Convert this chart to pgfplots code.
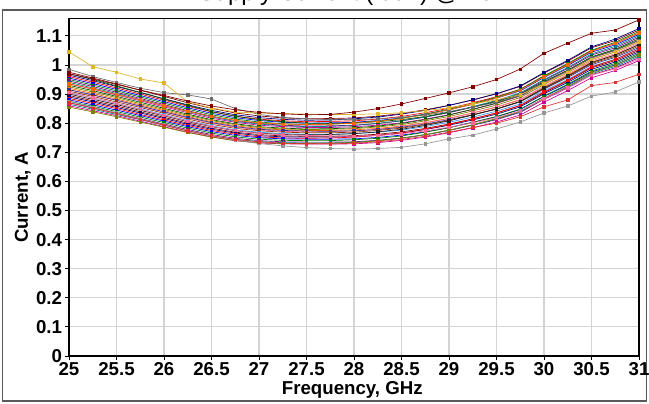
\documentclass[border=0pt]{standalone}
\usepackage{pgfplots}
\pgfplotsset{compat=1.18}
\usepackage{pgfplotstable}
\usepackage{fontspec}
\setmainfont{Liberation Sans}

\definecolor{c1}{RGB}{128,0,0}
\definecolor{c2}{RGB}{0,0,128}
\definecolor{c3}{RGB}{255,0,0}
\definecolor{c4}{RGB}{0,0,255}
\definecolor{c5}{RGB}{0,128,0}
\definecolor{c6}{RGB}{128,0,128}
\definecolor{c7}{RGB}{0,128,128}
\definecolor{c8}{RGB}{204,0,153}
\definecolor{c9}{RGB}{0,85,0}
\definecolor{c10}{RGB}{128,128,0}
\definecolor{c11}{RGB}{255,102,0}
\definecolor{c12}{RGB}{255,102,153}
\definecolor{c13}{RGB}{51,51,153}
\definecolor{c14}{RGB}{153,51,0}
\definecolor{c15}{RGB}{51,153,255}
\definecolor{c16}{RGB}{30,30,30}
\definecolor{gold}{RGB}{222,180,40}
\definecolor{gryA}{RGB}{110,110,110}
\definecolor{gryB}{RGB}{150,150,150}
\definecolor{redlo}{RGB}{225,50,50}
\definecolor{gridc}{RGB}{212,212,212}

\pgfplotscreateplotcyclelist{xl}{{c1},{c2},{c3},{c4},{c5},{c6},{c7},{c8},{c9},{c10},{c11},{c12},{c13},{c14},{c15},{c16}}

% one row per curve, transposed below
\pgfplotstableread{
name c0 c1 c2 c3 c4 c5 c6 c7 c8 c9 c10 c11 c12 c13 c14 c15 c16 c17 c18 c19 c20 c21 c22 c23 c24
x 25 25.25 25.5 25.75 26 26.25 26.5 26.75 27 27.25 27.5 27.75 28 28.25 28.5 28.75 29 29.25 29.5 29.75 30 30.25 30.5 30.75 31
s1 0.975 0.955 0.935 0.913 0.892 0.870 0.851 0.835 0.825 0.818 0.815 0.816 0.818 0.824 0.833 0.846 0.861 0.880 0.901 0.926 0.972 1.013 1.059 1.084 1.120
s2 0.965 0.946 0.926 0.905 0.884 0.863 0.844 0.829 0.819 0.813 0.810 0.811 0.815 0.821 0.831 0.844 0.861 0.880 0.901 0.928 0.974 1.016 1.062 1.089 1.125
s3 0.960 0.941 0.921 0.900 0.879 0.858 0.839 0.824 0.814 0.808 0.805 0.806 0.808 0.814 0.823 0.836 0.851 0.870 0.891 0.916 0.962 1.003 1.049 1.074 1.110
s4 0.955 0.936 0.916 0.895 0.874 0.853 0.834 0.819 0.809 0.803 0.800 0.801 0.803 0.809 0.818 0.831 0.846 0.865 0.886 0.911 0.957 0.998 1.044 1.069 1.105
s5 0.950 0.931 0.911 0.890 0.869 0.848 0.829 0.814 0.804 0.798 0.795 0.797 0.801 0.807 0.817 0.831 0.848 0.867 0.889 0.916 0.963 1.005 1.051 1.078 1.115
s6 0.945 0.926 0.906 0.885 0.864 0.843 0.824 0.809 0.799 0.793 0.790 0.791 0.793 0.799 0.808 0.821 0.836 0.855 0.876 0.901 0.947 0.988 1.034 1.059 1.095
s7 0.940 0.921 0.902 0.881 0.860 0.840 0.821 0.806 0.797 0.791 0.788 0.789 0.792 0.799 0.808 0.821 0.837 0.857 0.878 0.904 0.950 0.991 1.038 1.064 1.100
s8 0.935 0.917 0.897 0.877 0.856 0.836 0.817 0.803 0.793 0.788 0.785 0.785 0.788 0.793 0.801 0.814 0.829 0.847 0.868 0.893 0.938 0.979 1.024 1.050 1.085
s9 0.930 0.912 0.892 0.872 0.851 0.831 0.812 0.798 0.788 0.783 0.780 0.781 0.784 0.790 0.799 0.812 0.828 0.848 0.869 0.895 0.941 0.982 1.028 1.054 1.090
s10 0.925 0.907 0.888 0.867 0.847 0.827 0.809 0.795 0.785 0.780 0.778 0.779 0.781 0.787 0.795 0.808 0.823 0.842 0.862 0.888 0.933 0.974 1.019 1.045 1.080
s11 0.920 0.902 0.883 0.863 0.843 0.823 0.805 0.791 0.782 0.777 0.775 0.775 0.777 0.782 0.790 0.802 0.817 0.835 0.855 0.880 0.925 0.965 1.010 1.035 1.070
s12 0.915 0.897 0.878 0.858 0.838 0.818 0.800 0.786 0.777 0.772 0.770 0.771 0.773 0.779 0.788 0.801 0.816 0.835 0.856 0.881 0.927 0.968 1.014 1.039 1.075
s13 0.915 0.897 0.879 0.859 0.839 0.820 0.802 0.788 0.779 0.775 0.773 0.772 0.774 0.778 0.786 0.797 0.812 0.829 0.848 0.873 0.917 0.957 1.001 1.026 1.060
s14 0.910 0.892 0.873 0.854 0.834 0.814 0.796 0.782 0.774 0.769 0.767 0.767 0.769 0.775 0.783 0.795 0.810 0.829 0.849 0.874 0.919 0.960 1.005 1.030 1.065
s15 0.905 0.887 0.868 0.849 0.829 0.809 0.791 0.777 0.769 0.764 0.762 0.762 0.764 0.769 0.776 0.788 0.803 0.821 0.841 0.866 0.911 0.950 0.995 1.020 1.055
s16 0.900 0.882 0.864 0.844 0.825 0.805 0.788 0.774 0.766 0.761 0.760 0.761 0.764 0.770 0.779 0.792 0.808 0.828 0.849 0.875 0.921 0.962 1.008 1.034 1.070
s17 0.895 0.877 0.859 0.839 0.820 0.800 0.783 0.769 0.761 0.756 0.755 0.755 0.757 0.762 0.770 0.782 0.797 0.815 0.835 0.860 0.905 0.945 0.990 1.015 1.050
s18 0.890 0.873 0.854 0.835 0.816 0.796 0.779 0.766 0.757 0.753 0.752 0.752 0.754 0.758 0.766 0.778 0.793 0.811 0.831 0.856 0.901 0.940 0.985 1.010 1.045
s19 0.885 0.868 0.850 0.830 0.811 0.792 0.775 0.762 0.753 0.749 0.748 0.749 0.752 0.758 0.766 0.779 0.795 0.814 0.835 0.861 0.907 0.947 0.993 1.019 1.055
s20 0.880 0.863 0.845 0.826 0.807 0.788 0.771 0.758 0.750 0.746 0.745 0.745 0.746 0.751 0.759 0.770 0.785 0.803 0.822 0.847 0.892 0.931 0.976 1.000 1.035
s21 0.875 0.858 0.840 0.821 0.802 0.783 0.766 0.753 0.745 0.741 0.740 0.740 0.743 0.748 0.756 0.769 0.784 0.803 0.823 0.848 0.893 0.934 0.979 1.005 1.040
s22 0.870 0.853 0.835 0.816 0.797 0.778 0.761 0.748 0.740 0.736 0.735 0.735 0.736 0.741 0.749 0.760 0.775 0.793 0.812 0.837 0.882 0.921 0.966 0.990 1.025
s23 0.865 0.848 0.830 0.812 0.793 0.774 0.757 0.744 0.737 0.733 0.732 0.732 0.734 0.740 0.748 0.760 0.775 0.794 0.814 0.839 0.884 0.924 0.970 0.995 1.030
s24 0.860 0.843 0.826 0.807 0.788 0.769 0.753 0.740 0.732 0.729 0.728 0.728 0.729 0.733 0.741 0.752 0.767 0.784 0.804 0.828 0.872 0.912 0.956 0.981 1.015
s25 0.970 0.950 0.928 0.906 0.883 0.861 0.840 0.824 0.812 0.805 0.800 0.799 0.801 0.805 0.812 0.823 0.838 0.855 0.874 0.899 0.943 0.982 1.026 1.051 1.085
s26 0.855 0.839 0.822 0.804 0.786 0.768 0.752 0.740 0.733 0.730 0.730 0.731 0.733 0.739 0.748 0.761 0.776 0.795 0.816 0.841 0.886 0.927 0.973 0.999 1.035
s27 0.935 0.918 0.899 0.880 0.860 0.841 0.823 0.810 0.801 0.797 0.795 0.796 0.800 0.806 0.816 0.829 0.846 0.865 0.886 0.913 0.959 1.001 1.047 1.074 1.110
s28 0.905 0.887 0.868 0.847 0.827 0.807 0.789 0.775 0.765 0.760 0.758 0.756 0.755 0.758 0.764 0.773 0.786 0.801 0.819 0.842 0.884 0.922 0.965 0.987 1.020
yel 1.045 0.994 0.975 0.952 0.938 0.873 0.852 0.838 0.835 0.833 0.831 0.830 0.830 0.832 0.836 0.843 0.853 0.866 0.880 0.898 0.935 0.975 1.020 1.045 1.080
grA 0.985 0.960 0.940 0.920 0.905 0.897 0.883 0.850 0.830 0.820 0.815 0.812 0.812 0.815 0.820 0.828 0.840 0.855 0.872 0.895 0.940 0.980 1.025 1.050 1.085
grB 0.875 0.855 0.835 0.815 0.795 0.775 0.757 0.742 0.730 0.722 0.716 0.713 0.711 0.713 0.717 0.729 0.746 0.759 0.780 0.804 0.835 0.859 0.893 0.907 0.942
rlo 0.870 0.852 0.833 0.813 0.793 0.773 0.757 0.744 0.736 0.731 0.729 0.729 0.731 0.736 0.744 0.755 0.769 0.785 0.800 0.822 0.856 0.880 0.929 0.940 0.968
brn 0.970 0.952 0.933 0.914 0.895 0.876 0.859 0.846 0.837 0.832 0.829 0.830 0.838 0.850 0.866 0.885 0.904 0.925 0.950 0.986 1.040 1.075 1.109 1.120 1.155
}\raw
\pgfplotstabletranspose[colnames from=name]\curves\raw

\newcommand\lblfont{\fontsize{14}{16}\selectfont\bfseries}

\begin{document}
\begin{tikzpicture}
% 1px = 0.75pt; origin = lower-left corner of the plot area
\useasboundingbox (-51.75pt,-35.25pt) rectangle (435pt,267pt);
\begin{scope}
\clip (-51.75pt,-35.25pt) rectangle (435pt,267pt);
\node[anchor=base, inner sep=0pt, font=\fontsize{18}{20}\selectfont] at (213.75pt,266.8pt) {Supply Current (Idd1) @ +5V};
\end{scope}
\draw[color=gray!70!black, line width=1.3pt] (-49.9pt,-33.75pt) rectangle (433.1pt,259.5pt);
\begin{axis}[
    at={(0pt,0pt)}, anchor=south west,
    scale only axis, width=427.5pt, height=253.2pt,
    xmin=25, xmax=31, ymin=0, ymax=1.16,
    xtick={25,25.5,...,31}, ytick={0,0.1,...,1.1},
    grid=major, major grid style={gridc, line width=0.9pt},
    axis line style={black, line width=0.8pt},
    tick align=outside, tick pos=left, major tick length=3pt,
    tick style={black, line width=0.6pt},
    ticklabel style={font=\lblfont},
    /pgf/number format/fixed, /pgf/number format/precision=1,
    /pgf/number format/assume math mode=true,
    xticklabel style={inner sep=1pt, yshift=-1pt},
    yticklabel style={inner sep=2pt},
    xlabel={Frequency, GHz}, ylabel={Current, A},
    xlabel style={font=\lblfont, at={(axis description cs:0.497,-0.113)}, anchor=base},
    ylabel style={font=\lblfont, at={(axis description cs:-0.072,0.47)}, anchor=base},
    cycle list name=xl,
    every axis plot/.append style={line width=0.5pt, mark=square*, mark size=0.9pt, mark options={solid}},
]
\pgfplotsinvokeforeach{s1,s2,s3,s4,s5,s6,s7,s8,s9,s10,s11,s12,s13,s14,s15,s16,s17,s18,s19,s20,s21,s22,s23,s24,s25,s26,s27,s28}{
  \addplot table[x=x, y=#1] {\curves};
}
\addplot[gryB] table[x=x, y=grB] {\curves};
\addplot[redlo] table[x=x, y=rlo] {\curves};
\addplot[gryA] table[x=x, y=grA] {\curves};
\addplot[gold] table[x=x, y=yel] {\curves};
\addplot[c1] table[x=x, y=brn] {\curves};
\end{axis}
\end{tikzpicture}
\end{document}
